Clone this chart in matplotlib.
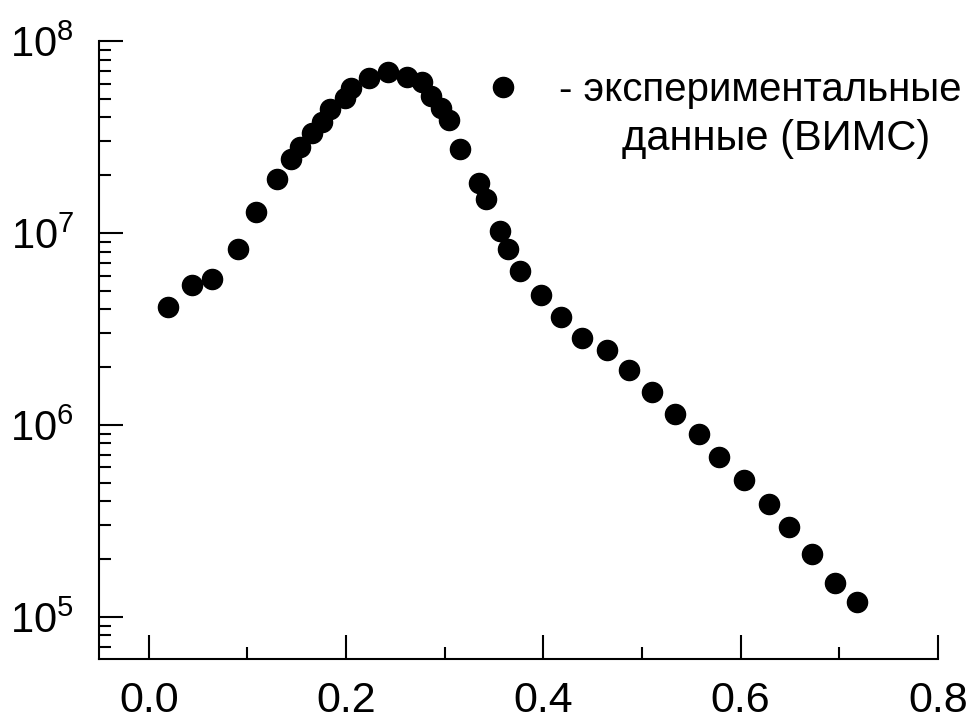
import matplotlib
matplotlib.use("Agg")
import matplotlib.pyplot as plt
from matplotlib.ticker import LogLocator, MultipleLocator, NullFormatter, FormatStrFormatter

plt.rcParams["font.family"] = ["Liberation Sans", "DejaVu Sans"]
plt.rcParams["mathtext.fontset"] = "custom"
plt.rcParams["mathtext.rm"] = "Liberation Sans"
plt.rcParams["mathtext.default"] = "regular"

# depth (x) and concentration (y)
depth = [0.019, 0.044, 0.064, 0.090, 0.109, 0.130, 0.144, 0.153, 0.165, 0.176,
         0.184, 0.199, 0.205, 0.223, 0.242, 0.262, 0.277, 0.286, 0.296, 0.304,
         0.316, 0.335, 0.342, 0.356, 0.364, 0.376, 0.398, 0.418, 0.439, 0.465,
         0.487, 0.510, 0.533, 0.558, 0.578, 0.603, 0.629, 0.649, 0.672, 0.696,
         0.718]
conc = [4.12e6, 5.36e6, 5.78e6, 8.22e6, 1.28e7, 1.91e7, 2.42e7, 2.81e7, 3.30e7, 3.80e7,
        4.43e7, 5.02e7, 5.68e7, 6.44e7, 6.87e7, 6.47e7, 6.09e7, 5.18e7, 4.46e7, 3.88e7,
        2.74e7, 1.83e7, 1.50e7, 1.02e7, 8.22e6, 6.37e6, 4.75e6, 3.66e6, 2.83e6, 2.46e6,
        1.92e6, 1.49e6, 1.14e6, 8.96e5, 6.84e5, 5.17e5, 3.86e5, 2.95e5, 2.12e5, 1.50e5,
        1.19e5]
label_line1 = "- экспериментальные"
label_line2 = "данные (ВИМС)"

fig = plt.figure(figsize=(9.76, 7.24), dpi=100)
ax = fig.add_axes([0.1014, 0.0898, 0.8596, 0.8536])

ax.plot(depth, conc, "o", color="black", markersize=14.5, label=label_line1)

ax.set_yscale("log")
ax.set_xlim(-0.0505, 0.8)
ax.set_ylim(6.03e4, 1e8)

ax.xaxis.set_major_locator(MultipleLocator(0.2))
ax.xaxis.set_minor_locator(MultipleLocator(0.1))
ax.xaxis.set_major_formatter(FormatStrFormatter("%.1f"))
ax.yaxis.set_major_locator(LogLocator(base=10, numticks=10))
ax.yaxis.set_minor_locator(LogLocator(base=10, subs=range(2, 10), numticks=20))
ax.yaxis.set_minor_formatter(NullFormatter())

for side in ("top", "right"):
    ax.spines[side].set_visible(False)
for side in ("left", "bottom"):
    ax.spines[side].set_linewidth(1.5)

ax.tick_params(which="major", direction="in", length=17, width=1.5)
ax.tick_params(which="minor", direction="in", length=8.5, width=1.5)
ax.tick_params(axis="x", which="major", pad=16, labelsize=31)
ax.tick_params(axis="y", which="major", pad=18, labelsize=30)

# legend: marker + first line, second line centred below it
leg = ax.legend(loc="center left", bbox_to_anchor=(0.4575, 0.921), frameon=False,
                fontsize=29, borderpad=0, borderaxespad=0, handlelength=1.0,
                handletextpad=0.9)
ax.text(0.807, 0.8236, label_line2, transform=ax.transAxes, fontsize=30,
        ha="center", va="baseline")

fig.savefig("out.png", dpi=100)
